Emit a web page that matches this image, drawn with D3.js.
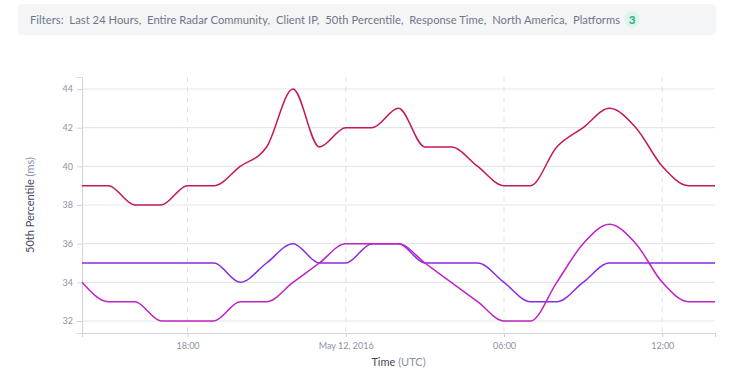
<!DOCTYPE html>
<html><head><meta charset="utf-8">
<script src="https://cdn.jsdelivr.net/npm/d3@7"></script>
<style>
body{margin:0;background:#fff;font-family:Lato,"Open Sans",sans-serif;}
svg{display:block}
text{white-space:pre}
</style></head>
<body>
<svg id="chart" width="735" height="379"></svg>
<script>
const hours = ["14:00","15:00","16:00","17:00","18:00","19:00","20:00","21:00","22:00","23:00","00:00","01:00","02:00","03:00","04:00","05:00","06:00","07:00","08:00","09:00","10:00","11:00","12:00","13:00","14:00"];
const seriesRed     = [39,39,38,38,39,39,40,41,44,41,42,42,43,41,41,40,39,39,41,42,43,42,40,39,39];
const seriesViolet  = [35,35,35,35,35,35,34,35,36,35,35,36,36,35,35,35,34,33,33,34,35,35,35,35,35];
const seriesMagenta = [34,33,33,32,32,32,33,33,34,35,36,36,36,35,34,33,32,32,34,36,37,36,34,33,33];
const yTicks = [32,34,36,38,40,42,44];
const xTickLabels = ["18:00","May 12, 2016","06:00","12:00"];
const filters = ["Last 24 Hours","Entire Radar Community","Client IP","50th Percentile","Response Time","North America","Platforms"];

const start = new Date(Date.UTC(2016,4,11,14));
const times = hours.map((h,i)=> new Date(start.getTime()+i*3600e3));
const xTickTimes = [new Date(Date.UTC(2016,4,11,18)),new Date(Date.UTC(2016,4,12,0)),new Date(Date.UTC(2016,4,12,6)),new Date(Date.UTC(2016,4,12,12))];

const svg = d3.select("#chart");
// filter bar
svg.append("rect").attr("x",18).attr("y",4).attr("width",698).attr("height",31).attr("rx",4).attr("fill","#f4f5f7");
const ft = svg.append("text").attr("x",30).attr("y",23.5).attr("font-size",11.2).attr("fill","#6f7787");
ft.text("Filters:  " + filters.join(",  "));
const ftW = ft.node().getComputedTextLength();
ft.attr("textLength", 590).attr("lengthAdjust","spacing");
const bx = 30 + 590 + 12;
svg.append("circle").attr("cx",bx).attr("cy",19.5).attr("r",8).attr("fill","#dff4ec");
svg.append("text").attr("x",bx).attr("y",23.5).attr("text-anchor","middle").attr("font-size",11.5).attr("font-weight",700).attr("fill","#1fae7a").text("3");

const m = {l:82, r:715, t:77, b:333};
const x = d3.scaleUtc().domain([times[0], times[times.length-1]]).range([m.l, m.r]);
const y = d3.scaleLinear().domain([31.38, 44.62]).range([m.b, m.t]);

// horizontal grid
svg.append("g").selectAll("line").data(yTicks).join("line")
  .attr("x1",m.l).attr("x2",m.r).attr("y1",d=>y(d)).attr("y2",d=>y(d))
  .attr("stroke","#e3e6ec").attr("stroke-width",1.2);
// vertical dashed grid
svg.append("g").selectAll("line").data(xTickTimes).join("line")
  .attr("x1",d=>x(d)).attr("x2",d=>x(d)).attr("y1",m.t).attr("y2",m.b)
  .attr("stroke","#dfe2e8").attr("stroke-dasharray","5,5");

// axes
const yAxis = svg.append("g").attr("transform",`translate(${m.l},0)`)
  .call(d3.axisLeft(y).tickValues(yTicks).tickSize(5).tickPadding(4));
yAxis.select(".domain").attr("stroke","#cfd4dc");
yAxis.selectAll(".tick line").attr("stroke","#cfd4dc");
yAxis.selectAll("text").attr("fill","#8b93a3").attr("font-size",9).attr("font-family","Lato,sans-serif");

const xAxis = svg.append("g").attr("transform",`translate(0,${m.b})`)
  .call(d3.axisBottom(x).tickValues(xTickTimes).tickFormat((d,i)=>xTickLabels[i]).tickSize(4).tickSizeOuter(4).tickPadding(6));
xAxis.select(".domain").attr("stroke","#cfd4dc");
xAxis.selectAll(".tick line").attr("stroke","#cfd4dc");
xAxis.selectAll("text").attr("fill","#8b93a3").attr("font-size",9).attr("font-family","Lato,sans-serif");

// lines
const line = d3.line().x((d,i)=>x(times[i])).y(d=>y(d)).curve(d3.curveMonotoneX);
[[seriesRed,"#c5175a"],[seriesViolet,"#8a2be2"],[seriesMagenta,"#c022c4"]].forEach(([s,c])=>{
  svg.append("path").datum(s).attr("d",line).attr("fill","none").attr("stroke",c).attr("stroke-width",1.5);
});

// axis titles
const yt = svg.append("text").attr("transform","translate(34,205) rotate(-90)").attr("text-anchor","middle")
  .attr("font-size",11).attr("fill","#3f4a5c");
yt.append("tspan").text("50th Percentile ");
yt.append("tspan").attr("fill","#8b93a3").text("(ms)");
const xt = svg.append("text").attr("x",(m.l+m.r)/2).attr("y",366).attr("text-anchor","middle")
  .attr("font-size",11).attr("fill","#3f4a5c");
xt.append("tspan").text("Time ");
xt.append("tspan").attr("fill","#8b93a3").text("(UTC)");
</script>
</body></html>
